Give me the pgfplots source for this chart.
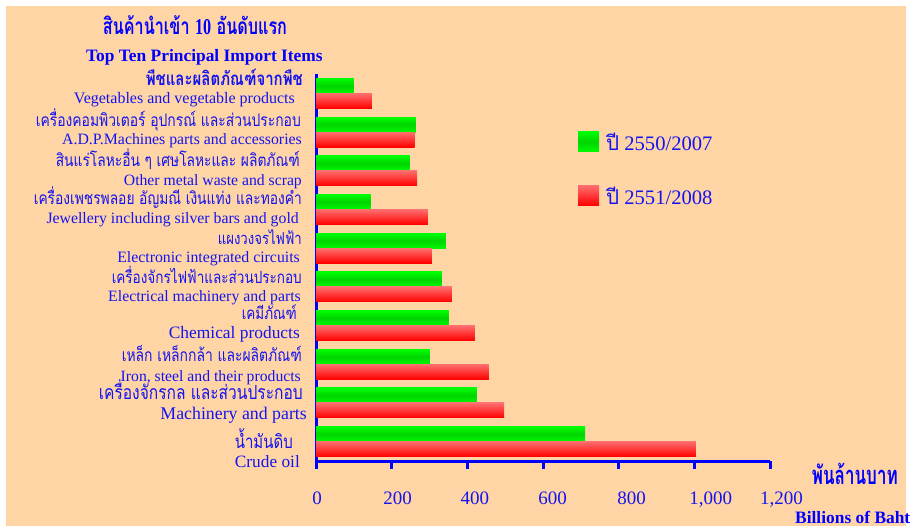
\documentclass[border=0pt]{standalone}
\usepackage{pgfplots}
\pgfplotsset{compat=1.18}
\usepackage{fontspec}
\setmainfont{Liberation Serif}
\newfontfamily\thai[Script=Thai]{Loma}
\definecolor{peach}{RGB}{255,213,166}
\definecolor{ablue}{RGB}{0,0,255}
\definecolor{tblue}{RGB}{20,20,240}
\definecolor{gtop}{RGB}{0,255,0}
\definecolor{gmid}{RGB}{0,212,0}
\definecolor{gbot}{RGB}{0,250,0}
\definecolor{rtop}{RGB}{255,110,110}
\definecolor{rbot}{RGB}{255,0,0}
\newcommand{\fs}[1]{\fontsize{#1}{#1}\selectfont}
\newcommand{\thl}[3][1.25]{\scalebox{1}[#1]{\resizebox{#2}{!}{\thai #3}}}
\begin{document}
\begin{tikzpicture}[x=1pt,y=1pt]
\fill[white] (0,0) rectangle (921,-526);
\fill[peach] (6,-6) rectangle (906,-526);
\begin{axis}[
  at={(316pt,-461pt)}, anchor=south west,
  scale only axis, width=454pt, height=387pt,
  xmin=0, xmax=1200, ymin=-0.5, ymax=9.5,
  axis x line=bottom, axis y line=left,
  axis line style={-, draw=ablue, line width=3pt},
  ytick=\empty,
  xtick={0,200,400,600,800,1000,1200},
  xticklabels={{\hspace*{2pt}0},{\hspace*{12pt}200},{\hspace*{15pt}400},{\hspace*{19pt}600},{\hspace*{26pt}800},{\hspace*{33pt}1,000},{\hspace*{23pt}1,200}},
  tick align=outside, major tick length=8pt,
  tick style={draw=ablue, line width=3pt},
  xticklabel style={font=\fs{19}, text=tblue, anchor=base, yshift=-35pt},
  xbar, bar width=15pt,
  legend style={at={(axis description cs:0.577,0.853)}, anchor=north west, draw=none, fill=none, inner sep=0pt, row sep=31pt, column sep=5pt, font=\fs{20.6}, text=tblue},
  legend cell align=left,
  gbar/.style={xbar, bar shift=7.5pt, draw=none, top color=gtop, bottom color=gbot, middle color=gmid},
  rbar/.style={xbar, bar shift=-7.5pt, draw=none, top color=rtop, bottom color=rbot},
]
% 2550/2007 (green)
\addplot[gbar, legend image code/.code={\path[top color=gtop,bottom color=gbot,middle color=gmid] (0pt,-9pt) rectangle (21pt,11pt);}]
  coordinates {(711,0)};
\addlegendentry{{\thai ปี} 2550/2007}
% 2551/2008 (red)
\addplot[rbar, legend image code/.code={\path[top color=rtop,bottom color=rbot] (0pt,-9pt) rectangle (21pt,11pt);}]
  coordinates {(1004,0)};
\addlegendentry{{\thai ปี} 2551/2008}
\addplot[gbar, forget plot] coordinates {(425,1)};
\addplot[gbar, forget plot] coordinates {(301,2)};
\addplot[gbar, forget plot] coordinates {(351,3)};
\addplot[gbar, forget plot] coordinates {(333,4)};
\addplot[gbar, forget plot] coordinates {(343,5)};
\addplot[gbar, forget plot] coordinates {(145,6)};
\addplot[gbar, forget plot] coordinates {(248,7)};
\addplot[gbar, forget plot] coordinates {(264,8)};
\addplot[gbar, forget plot] coordinates {(100,9)};
\addplot[rbar, forget plot] coordinates {(497,1)};
\addplot[rbar, forget plot] coordinates {(457,2)};
\addplot[rbar, forget plot] coordinates {(420,3)};
\addplot[rbar, forget plot] coordinates {(359,4)};
\addplot[rbar, forget plot] coordinates {(306,5)};
\addplot[rbar, forget plot] coordinates {(296,6)};
\addplot[rbar, forget plot] coordinates {(267,7)};
\addplot[rbar, forget plot] coordinates {(261,8)};
\addplot[rbar, forget plot] coordinates {(148,9)};
\end{axis}
\tikzset{lab/.style={anchor=base east, inner sep=0pt, text=tblue}}
% Thai labels
\node[lab] at (303,-86) {\thl{157pt}{\bfseries พืชและผลิตภัณฑ์จากพืช}};
\node[lab] at (301,-127) {\thl{265pt}{เครื่องคอมพิวเตอร์ อุปกรณ์ และส่วนประกอบ}};
\node[lab] at (300,-167) {\thl{244pt}{สินแร่โลหะอื่น ๆ เศษโลหะและ ผลิตภัณฑ์}};
\node[lab] at (302,-205) {\thl{268pt}{เครื่องเพชรพลอย อัญมณี เงินแท่ง และทองคำ}};
\node[lab] at (302,-245) {\thl{84pt}{แผงวงจรไฟฟ้า}};
\node[lab] at (302,-284) {\thl{190pt}{เครื่องจักรไฟฟ้าและส่วนประกอบ}};
\node[lab] at (297,-320) {\thl{55pt}{เคมีภัณฑ์}};
\node[lab] at (302,-362) {\thl{180pt}{เหล็ก เหล็กกล้า และผลิตภัณฑ์}};
\node[lab] at (303,-400) {\thl{204pt}{เครื่องจักรกล และส่วนประกอบ}};
\node[lab] at (293,-448) {\thl{58pt}{น้ำมันดิบ}};
% English labels
\node[lab] at (295,-104) {\fs{16}Vegetables and vegetable products};
\node[lab] at (302,-145) {\fs{15.8}A.D.P.Machines parts and accessories};
\node[lab] at (302,-186) {\fs{15.7}Other metal waste and scrap};
\node[lab] at (299,-224) {\fs{15.8}Jewellery including silver bars and gold};
\node[lab] at (300,-263) {\fs{15.8}Electronic integrated circuits};
\node[lab] at (301,-302) {\fs{15.8}Electrical machinery and parts};
\node[lab] at (300,-339) {\fs{17.4}Chemical products};
\node[lab] at (301,-382) {\fs{15.7}Iron, steel and their products};
\node[lab] at (307,-420) {\fs{17.8}Machinery and parts};
\node[lab] at (300,-467) {\fs{17.3}Crude oil};
% titles
\node[anchor=base, inner sep=0pt, text=ablue] at (195,-35) {\thl[1.4]{184pt}{\bfseries สินค้านำเข้า {\rmfamily 10} อันดับแรก}};
\node[anchor=base west, inner sep=0pt, text=ablue] at (86,-62) {\fs{17.4}\bfseries Top Ten Principal Import Items};
\node[anchor=base east, inner sep=0pt, text=ablue] at (898,-484) {\thl[1.5]{86pt}{\bfseries พันล้านบาท}};
\node[anchor=base west, inner sep=0pt, text=ablue] at (795,-523) {\fs{17.4}\bfseries Billions of Baht};
\pgfresetboundingbox
\useasboundingbox (0,0) rectangle (921,-526);
\end{tikzpicture}
\end{document}
